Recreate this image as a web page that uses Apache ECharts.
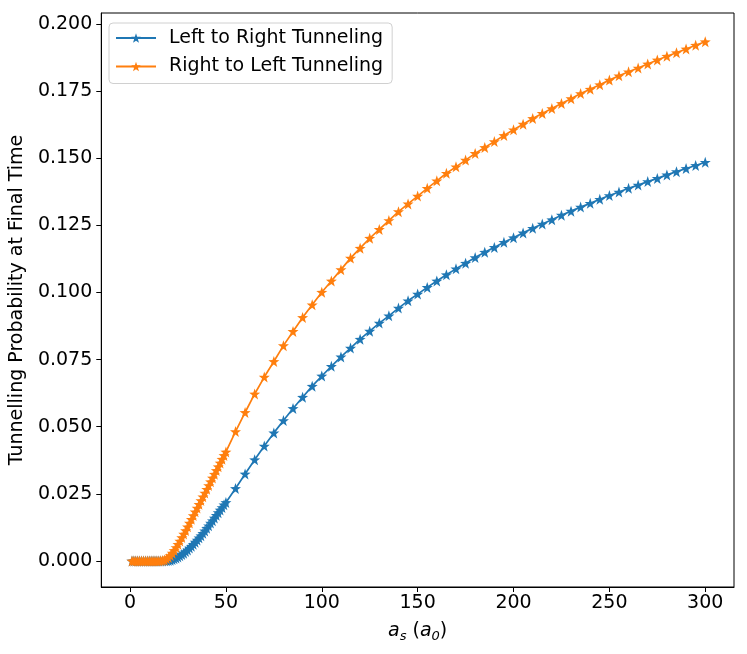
<!DOCTYPE html>
<html>
<head>
<meta charset="utf-8">
<script src="https://cdn.jsdelivr.net/npm/echarts@6/dist/echarts.min.js"></script>
<style>html,body{margin:0;padding:0;background:#fff}#c{width:747px;height:654px}</style>
</head>
<body>
<div id="c"></div>
<script>
var xs = [1,2,3,4,5,6,7,8,9,10,11,12,13,14,15,16,17,18,19,20,21,22,23,24,25,26,27,28,29,30,31,32,33,34,35,36,37,38,39,40,41,42,43,44,45,46,47,48,49,50,
55,60,65,70,75,80,85,90,95,100,105,110,115,120,125,130,135,140,145,150,155,160,165,170,175,180,185,190,195,200,205,210,215,220,225,230,235,240,245,250,255,260,265,270,275,280,285,290,295,300];

var leftToRight = [0,0,0,0,0,0,0,0,0,0,0,0,0,0,0,0,0,0.0001,0.0001,0.0002,0.0003,0.0005,0.0008,0.0011,0.0015,0.0019,0.0024,0.0029,0.0035,0.0041,0.0048,0.0055,0.0062,0.0070,0.0078,0.0086,0.0094,0.0103,0.0112,0.0122,0.0131,0.0141,0.0150,0.0160,0.0170,0.0180,0.0190,0.0199,0.0209,0.0218,
0.0270,0.0324,0.0377,0.0428,0.0477,0.0523,0.0568,0.0610,0.0651,0.0689,0.0725,0.0760,0.0793,0.0826,0.0856,0.0886,0.0913,0.0942,0.0969,0.0994,0.1019,0.1043,0.1066,0.1088,0.1109,0.1130,0.1150,0.1168,0.1187,0.1204,0.1222,0.1239,0.1255,0.1271,0.1288,0.1303,0.1318,0.1332,0.1347,0.1361,0.1374,0.1388,0.1400,0.1413,0.1425,0.1438,0.1450,0.1462,0.1473,0.1485];

var rightToLeft = [0,0,0,0,0,0,0,0,0,0,0,0,0,0,0,0.0001,0.0002,0.0004,0.0008,0.0013,0.0020,0.0029,0.0039,0.0050,0.0062,0.0074,0.0087,0.0100,0.0113,0.0127,0.0141,0.0155,0.0169,0.0183,0.0197,0.0211,0.0225,0.0239,0.0253,0.0267,0.0281,0.0295,0.0309,0.0323,0.0337,0.0351,0.0365,0.0379,0.0393,0.0406,
0.0482,0.0553,0.0622,0.0685,0.0743,0.0802,0.0855,0.0907,0.0954,0.1001,0.1043,0.1085,0.1128,0.1165,0.1202,0.1235,0.1268,0.1301,0.1330,0.1359,0.1388,0.1416,0.1444,0.1468,0.1493,0.1518,0.1540,0.1562,0.1585,0.1606,0.1627,0.1648,0.1667,0.1685,0.1704,0.1722,0.1741,0.1757,0.1774,0.1791,0.1807,0.1822,0.1836,0.1851,0.1866,0.1880,0.1893,0.1907,0.1921,0.1934];

var xTicks = [0,50,100,150,200,250,300];
var yTicks = [0,0.025,0.05,0.075,0.1,0.125,0.15,0.175,0.2];
var seriesNames = ['Left to Right Tunneling','Right to Left Tunneling'];
var colors = ['#1f77b4','#ff7f0e'];

var star = 'path://M0,-10L2.35,-3.24L9.51,-3.09L3.8,1.24L5.88,8.09L0,4L-5.88,8.09L-3.8,1.24L-9.51,-3.09L-2.35,-3.24Z';

function pairs(ys){ return xs.map(function(x,i){ return [x, ys[i]]; }); }

var chart = echarts.init(document.getElementById('c'), null, {renderer:'canvas'});
var font = 'DejaVu Sans';
var fs = 19;
chart.setOption({
  animation: false,
  backgroundColor: '#fff',
  grid: {left: 99, right: 13, top: 13, bottom: 67, show: true, borderColor: '#000', borderWidth: 1, backgroundColor: 'transparent'},
  legend: {
    left: 109, top: 23, orient: 'vertical',
    data: seriesNames,
    backgroundColor: '#fff', borderColor: '#d0d0d0', borderWidth: 1, borderRadius: 4,
    padding: [4, 9, 6, 6], itemGap: 6.5, itemWidth: 40, itemHeight: 12,
    textStyle: {fontFamily: font, fontSize: fs, color: '#000', lineHeight: 22, padding: [0,0,0,8]}
  },
  xAxis: {
    type: 'value', min: -15, max: 315,
    name: '{i|a}{sub|s} ({i|a}{sub|0})', nameLocation: 'middle', nameGap: 33,
    nameTextStyle: {fontFamily: font, fontSize: fs, color: '#000',
      rich: {i: {fontFamily: font, fontStyle: 'italic', fontSize: fs, color: '#000'},
             sub: {fontFamily: font, fontStyle: 'italic', fontSize: 13, color: '#000', verticalAlign: 'bottom', padding: [10,0,0,0]}}},
    axisLine: {show: true, onZero: false, lineStyle: {color: '#000'}},
    axisTick: {show: true, inside: false, length: 5, customValues: xTicks, lineStyle: {color: '#000'}},
    axisLabel: {customValues: xTicks, fontFamily: font, fontSize: fs, color: '#000', margin: 7},
    splitLine: {show: false}
  },
  yAxis: {
    type: 'value', min: -0.0097, max: 0.2041,
    name: 'Tunnelling Probability at Final Time', nameLocation: 'middle', nameGap: 63,
    nameTextStyle: {fontFamily: font, fontSize: fs, color: '#000'},
    axisLine: {show: true, onZero: false, lineStyle: {color: '#000'}},
    axisTick: {show: true, inside: false, length: 5, customValues: yTicks, lineStyle: {color: '#000'}},
    axisLabel: {customValues: yTicks, fontFamily: font, fontSize: fs, color: '#000', margin: 9,
      formatter: function(v){ return v.toFixed(3); }},
    splitLine: {show: false}
  },
  series: [
    {name: seriesNames[0], type: 'line', data: pairs(leftToRight), symbol: star, symbolSize: 11, showAllSymbol: true,
     color: colors[0], lineStyle: {width: 1.7, color: colors[0]}, itemStyle: {color: colors[0]}},
    {name: seriesNames[1], type: 'line', data: pairs(rightToLeft), symbol: star, symbolSize: 11, showAllSymbol: true,
     color: colors[1], lineStyle: {width: 1.7, color: colors[1]}, itemStyle: {color: colors[1]}}
  ]
});
</script>
</body>
</html>
